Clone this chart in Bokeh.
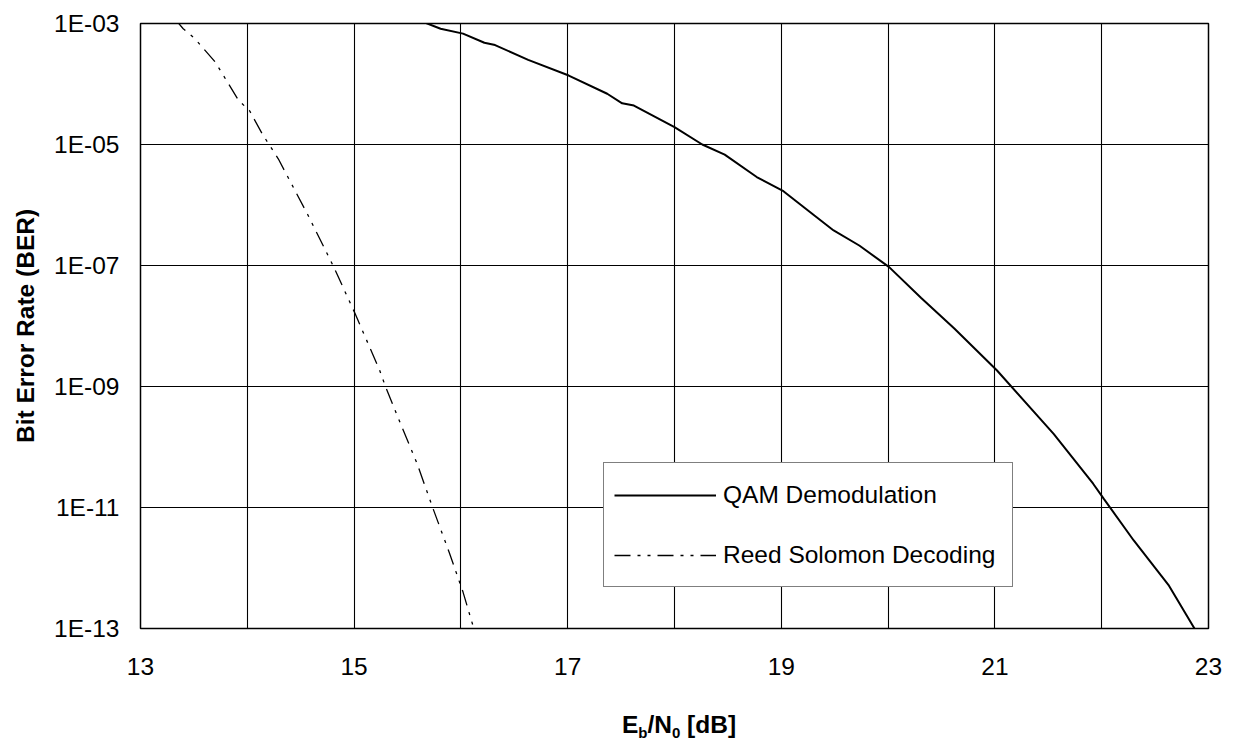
from bokeh.plotting import figure
from bokeh.layouts import column
from bokeh.models import (FixedTicker, CustomJSTickFormatter, Legend, LegendItem,
                          Range1d, Div)
from bokeh.embed import file_html
from bokeh.resources import INLINE

# ---------------- data ----------------
qam_ebn0 = [15.52, 15.63, 15.81, 16.02, 16.22, 16.32, 16.63, 17.01, 17.37, 17.51,
            17.62, 18.00, 18.26, 18.47, 18.77, 19.02, 19.31, 19.49, 19.73, 20.01,
            20.31, 20.62, 21.02, 21.55, 21.92, 22.02, 22.30, 22.63, 22.87]
qam_ber = [1.2e-3, 1.09e-3, 8.2e-4, 6.8e-4, 4.8e-4, 4.4e-4, 2.5e-4, 1.38e-4, 6.9e-5, 4.8e-5,
           4.4e-5, 1.93e-5, 1.0e-5, 6.8e-6, 2.9e-6, 1.69e-6, 6.7e-7, 3.8e-7, 2.14e-7, 9.4e-8,
           2.9e-8, 9.1e-9, 1.84e-9, 1.65e-10, 2.47e-11, 1.39e-11, 2.85e-12, 5.1e-13, 9.9e-14]

rs_ebn0 = [13.32, 13.40, 13.51, 13.70, 13.92, 14.02, 14.14, 14.29, 14.57, 14.81,
           15.01, 15.24, 15.29, 15.41, 15.59, 15.74, 15.89, 16.02, 16.12]
rs_ber = [1.2e-3, 8.2e-4, 5.6e-4, 2.3e-4, 5.3e-5, 3.65e-5, 1.5e-5, 5.8e-6, 6.7e-7, 9.4e-8,
          1.59e-8, 1.84e-9, 1.04e-9, 3.1e-10, 5.3e-11, 9.5e-12, 1.82e-12, 4.0e-13, 1.01e-13]

series_labels = ["QAM Demodulation", "Reed Solomon Decoding"]

x_tick_values = [13, 15, 17, 19, 21, 23]
x_tick_labels = ["13", "15", "17", "19", "21", "23"]
x_grid_values = [13, 14, 15, 16, 17, 18, 19, 20, 21, 22, 23]
y_tick_exps = [-3, -5, -7, -9, -11, -13]
y_tick_labels = ["1E-03", "1E-05", "1E-07", "1E-09", "1E-11", "1E-13"]

y_axis_title = "Bit Error Rate (BER)"
x_title_parts = ["E", "b", "/N", "0", " [dB]"]   # main, sub, main, sub, main

# ---------------- figure ----------------
FONT = "Liberation Sans"
FS = "24.5px"
W = 1229

p = figure(width=W, height=698, x_range=Range1d(13, 23), y_range=Range1d(1e-13, 1e-3),
           y_axis_type="log", output_backend="svg", toolbar_location=None,
           min_border_left=140, min_border_right=21, min_border_top=23, min_border_bottom=70)
p.background_fill_color = "white"
p.border_fill_color = "white"
p.outline_line_color = "black"
p.outline_line_width = 1.5

# axes
p.xaxis.ticker = FixedTicker(ticks=x_tick_values)
p.xaxis.major_label_overrides = {v: s for v, s in zip(x_tick_values, x_tick_labels)}
p.yaxis.ticker = FixedTicker(ticks=[10.0 ** e for e in y_tick_exps])
p.yaxis.formatter = CustomJSTickFormatter(
    args=dict(labels=y_tick_labels, exps=y_tick_exps),
    code="const e = Math.round(Math.log10(tick)); const i = exps.indexOf(e); return i >= 0 ? labels[i] : '';")
for ax in (p.xaxis[0], p.yaxis[0]):
    ax.axis_line_color = None
    ax.major_tick_line_color = None
    ax.minor_tick_line_color = None
    ax.major_tick_out = 0
    ax.major_tick_in = 0
    ax.minor_tick_out = 0
    ax.minor_tick_in = 0
    ax.major_label_text_font = FONT
    ax.major_label_text_font_size = FS
    ax.major_label_text_color = "black"
p.xaxis.major_label_standoff = 29
p.yaxis.major_label_standoff = 21
p.yaxis.axis_label = y_axis_title
p.yaxis.axis_label_text_font = FONT
p.yaxis.axis_label_text_font_size = FS
p.yaxis.axis_label_text_font_style = "bold"
p.yaxis.axis_label_text_color = "black"
p.yaxis.axis_label_standoff = 12

# grids
p.xgrid.ticker = FixedTicker(ticks=x_grid_values)
p.ygrid.ticker = FixedTicker(ticks=[10.0 ** e for e in y_tick_exps])
for g in (p.xgrid[0], p.ygrid[0]):
    g.grid_line_color = "black"
    g.grid_line_width = 1.1
    g.grid_line_alpha = 1.0

# series
r_qam = p.line(qam_ebn0, qam_ber, line_color="black", line_width=2)
r_rs = p.line(rs_ebn0, rs_ber, line_color="black", line_width=1.3, line_dash="16 7 3 7 3 7")

legend = Legend(items=[LegendItem(label=series_labels[0], renderers=[r_qam]),
                       LegendItem(label=series_labels[1], renderers=[r_rs])],
                location=(463, 41), orientation="vertical",
                border_line_color="black", border_line_width=1.3,
                background_fill_color="white", background_fill_alpha=1,
                label_text_font=FONT, label_text_font_size=FS, label_text_color="black",
                glyph_width=102, glyph_height=20, label_height=43, spacing=17,
                padding=10, margin=0, label_standoff=7, label_width=279)
p.add_layout(legend)

# x-axis title with subscripts, as real HTML text under the plot
sub = '<span style="font-size:15px;vertical-align:-5px;">{}</span>'
x_title_html = "".join(sub.format(t) if i % 2 == 1 else t for i, t in enumerate(x_title_parts))
x_title = Div(
    text=('<div style="width:%dpx;margin-left:120px;padding-top:8px;text-align:center;'
          'font-family:\'Liberation Sans\';font-weight:bold;font-size:24.5px;'
          'line-height:28px;color:black;white-space:nowrap;">%s</div>') % (W - 121, x_title_html),
    width=W, height=38)

layout = column(p, x_title, spacing=0)
open("out.html", "w").write(file_html(layout, INLINE))
